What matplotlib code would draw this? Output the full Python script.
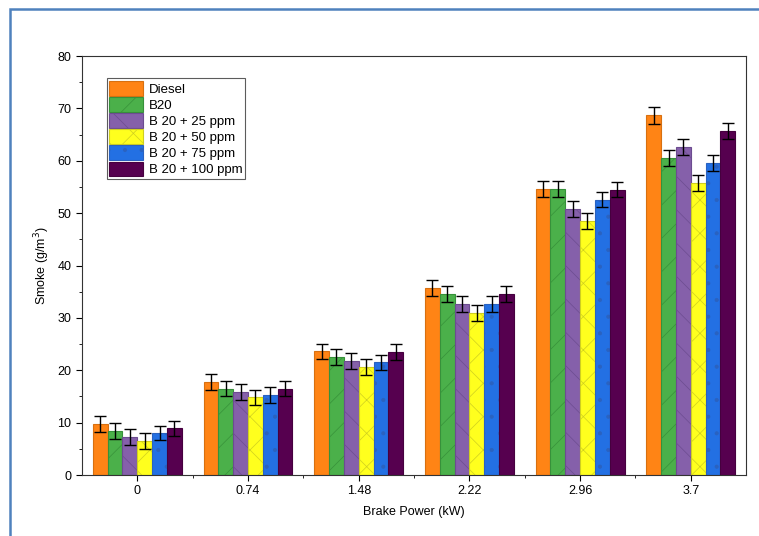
import matplotlib.pyplot as plt
import numpy as np
from matplotlib.patches import Rectangle
from matplotlib.ticker import MultipleLocator

plt.rcParams['font.family'] = ['Liberation Sans', 'DejaVu Sans']
plt.rcParams['hatch.linewidth'] = 0.5

# Brake power categories
power_labels = ['0', '0.74', '1.48', '2.22', '2.96', '3.7']

# Smoke (g/m^3) for each fuel blend
diesel = [9.7, 17.8, 23.6, 35.7, 54.6, 68.7]
b20 = [8.4, 16.5, 22.5, 34.5, 54.6, 60.5]
b20_25 = [7.2, 15.9, 21.8, 32.6, 50.8, 62.6]
b20_50 = [6.5, 14.8, 20.6, 30.9, 48.5, 55.8]
b20_75 = [8.0, 15.3, 21.5, 32.6, 52.6, 59.6]
b20_100 = [8.9, 16.5, 23.5, 34.6, 54.5, 65.7]

# error bar half-heights
err_diesel = [1.5, 1.5, 1.5, 1.5, 1.5, 1.6]
err_b20 = [1.5, 1.5, 1.5, 1.5, 1.5, 1.5]
err_b20_25 = [1.5, 1.5, 1.5, 1.5, 1.5, 1.5]
err_b20_50 = [1.5, 1.5, 1.5, 1.5, 1.5, 1.5]
err_b20_75 = [1.4, 1.5, 1.5, 1.5, 1.5, 1.5]
err_b20_100 = [1.5, 1.5, 1.5, 1.5, 1.5, 1.5]

series = [
    ('Diesel', diesel, err_diesel, '#FF8415', '#D87010', ''),
    ('B20', b20, err_b20, '#4BB04A', '#37913A', '/'),
    ('B 20 + 25 ppm', b20_25, err_b20_25, '#8560AA', '#6C4C90', '\\'),
    ('B 20 + 50 ppm', b20_50, err_b20_50, '#FFFF1E', '#CFCF20', 'x'),
    ('B 20 + 75 ppm', b20_75, err_b20_75, '#2370E3', '#2A62C0', '.'),
    ('B 20 + 100 ppm', b20_100, err_b20_100, '#56004F', '#46003F', ''),
]

fig = plt.figure(figsize=(7.59, 5.36), dpi=100)
ax = fig.add_axes([0.108, 0.1138, 0.875, 0.7817])

x = np.arange(len(power_labels))
width = 0.134
n = len(series)
for i, (name, vals, errs, fc, ec, hatch) in enumerate(series):
    pos = x + (i - (n - 1) / 2) * width
    ax.bar(pos, vals, width, color=fc, edgecolor=ec, hatch=hatch,
           linewidth=0.8, label=name, zorder=2)
    ax.errorbar(pos, vals, yerr=errs, fmt='none', ecolor='black',
                elinewidth=1, capsize=4, capthick=1, zorder=3)

ax.set_xlim(-0.5, 5.5)
ax.set_ylim(0, 80)
ax.set_xticks(x)
ax.set_xticklabels(power_labels)
ax.set_xticks(x[:-1] + 0.5, minor=True)
ax.yaxis.set_major_locator(MultipleLocator(10))
ax.yaxis.set_minor_locator(MultipleLocator(5))
ax.tick_params(which='both', direction='out', labelsize=9, top=False, right=False)
ax.tick_params(which='major', length=4)
ax.tick_params(which='minor', length=2.5)
for s in ax.spines.values():
    s.set_linewidth(0.8)
    s.set_color('#333333')

ax.set_xlabel('Brake Power (kW)', fontsize=9, labelpad=6)
ax.set_ylabel('Smoke (g/m$^3$)', fontsize=9, labelpad=4)

leg = ax.legend(loc='upper left', bbox_to_anchor=(0.037, 0.947), fontsize=9.5,
                frameon=True, fancybox=False, edgecolor='#333333',
                handlelength=2.6, handleheight=1.35, handletextpad=0.4,
                labelspacing=0.1, borderpad=0.2, borderaxespad=0)
leg.get_frame().set_linewidth(0.8)

# blue page frame
fig.patches.append(Rectangle((10 / 759, -0.1), 1.2, 1 - 9 / 536 + 0.1,
                             transform=fig.transFigure, fill=False,
                             edgecolor='#4F81BD', linewidth=1.8))

fig.savefig('out.png', dpi=100)
